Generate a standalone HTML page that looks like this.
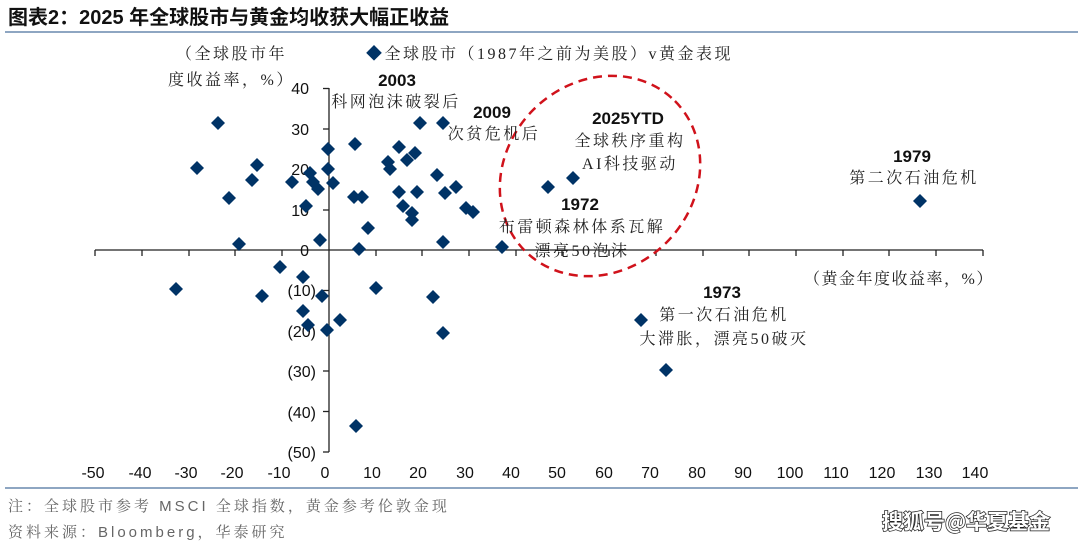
<!DOCTYPE html>
<html><head><meta charset="utf-8"><style>
body{margin:0;background:#fff;width:1080px;height:545px;overflow:hidden;font-family:"Liberation Sans","Noto Sans CJK SC",sans-serif}
</style></head><body>
<svg width="1080" height="545" xmlns="http://www.w3.org/2000/svg" font-family="Liberation Sans, Noto Sans CJK SC, sans-serif">
<text x="8" y="24" font-size="20" font-weight="bold" fill="#111">图表2：2025 年全球股市与黄金均收获大幅正收益</text>
<rect x="5" y="31" width="1073" height="2" fill="#8ea6c2"/>
<g font-size="16" fill="#222" font-family="Liberation Serif, Noto Serif CJK SC, serif" letter-spacing="2.5">
<text x="176" y="59">（全球股市年</text>
<text x="168" y="85">度收益率，%）</text>
<text x="366" y="59"><tspan fill="#003366">◆</tspan>全球股市（1987年之前为美股）v黄金表现</text>
</g>
<g stroke="#222" stroke-width="1.3">
<line x1="329" y1="88" x2="329" y2="452"/>
<line x1="95" y1="250" x2="983" y2="250"/>
</g>
<g stroke="#222" stroke-width="1.3">
<line x1="323" y1="88.5" x2="329" y2="88.5"/><line x1="323" y1="129" x2="329" y2="129"/><line x1="323" y1="169" x2="329" y2="169"/><line x1="323" y1="210" x2="329" y2="210"/><line x1="323" y1="290.5" x2="329" y2="290.5"/><line x1="323" y1="331" x2="329" y2="331"/><line x1="323" y1="371" x2="329" y2="371"/><line x1="323" y1="411.5" x2="329" y2="411.5"/><line x1="323" y1="452" x2="329" y2="452"/>
</g>
<g stroke="#222" stroke-width="1.3">
<line x1="95" y1="250" x2="95" y2="256"/><line x1="142" y1="250" x2="142" y2="256"/><line x1="189" y1="250" x2="189" y2="256"/><line x1="235" y1="250" x2="235" y2="256"/><line x1="282" y1="250" x2="282" y2="256"/><line x1="376" y1="250" x2="376" y2="256"/><line x1="422" y1="250" x2="422" y2="256"/><line x1="469" y1="250" x2="469" y2="256"/><line x1="516" y1="250" x2="516" y2="256"/><line x1="562" y1="250" x2="562" y2="256"/><line x1="609" y1="250" x2="609" y2="256"/><line x1="656" y1="250" x2="656" y2="256"/><line x1="703" y1="250" x2="703" y2="256"/><line x1="749" y1="250" x2="749" y2="256"/><line x1="796" y1="250" x2="796" y2="256"/><line x1="843" y1="250" x2="843" y2="256"/><line x1="889" y1="250" x2="889" y2="256"/><line x1="936" y1="250" x2="936" y2="256"/><line x1="983" y1="250" x2="983" y2="256"/>
</g>
<g font-size="16" fill="#111" text-anchor="end">
<text x="309" y="94">40</text><text x="309" y="135">30</text><text x="309" y="175">20</text><text x="309" y="216">10</text><text x="309" y="256">0</text>
<text x="316" y="296">(10)</text><text x="316" y="337">(20)</text><text x="316" y="377">(30)</text><text x="316" y="418">(40)</text><text x="316" y="458">(50)</text>
</g>
<g font-size="16" fill="#111" text-anchor="middle">
<text x="93" y="478">-50</text><text x="140" y="478">-40</text><text x="186" y="478">-30</text><text x="232" y="478">-20</text><text x="279" y="478">-10</text><text x="325" y="478">0</text><text x="372" y="478">10</text><text x="418" y="478">20</text><text x="465" y="478">30</text><text x="511" y="478">40</text><text x="557" y="478">50</text><text x="604" y="478">60</text><text x="650" y="478">70</text><text x="697" y="478">80</text><text x="743" y="478">90</text><text x="790" y="478">100</text><text x="836" y="478">110</text><text x="882" y="478">120</text><text x="929" y="478">130</text><text x="975" y="478">140</text>
</g>
<text x="804" y="284" font-size="16" fill="#222" font-family="Liberation Serif, Noto Serif CJK SC, serif" letter-spacing="1.5">（黄金年度收益率，%）</text>
<ellipse cx="600" cy="176" rx="106" ry="94" transform="rotate(-45 600 176)" fill="none" stroke="#d0121b" stroke-width="2.5" stroke-dasharray="9,6"/>
<g fill="#003366">
<path d="M218 116l7 7-7 7-7-7z"/><path d="M197 161l7 7-7 7-7-7z"/><path d="M229 191l7 7-7 7-7-7z"/><path d="M252 173l7 7-7 7-7-7z"/><path d="M257 158l7 7-7 7-7-7z"/><path d="M239 237l7 7-7 7-7-7z"/><path d="M292 175l7 7-7 7-7-7z"/><path d="M310 166l7 7-7 7-7-7z"/><path d="M313 175l7 7-7 7-7-7z"/><path d="M318 182l7 7-7 7-7-7z"/><path d="M306 199l7 7-7 7-7-7z"/><path d="M320 233l7 7-7 7-7-7z"/><path d="M328 142l7 7-7 7-7-7z"/><path d="M328 162l7 7-7 7-7-7z"/><path d="M333 176l7 7-7 7-7-7z"/><path d="M355 137l7 7-7 7-7-7z"/><path d="M354 190l7 7-7 7-7-7z"/><path d="M362 190l7 7-7 7-7-7z"/><path d="M368 221l7 7-7 7-7-7z"/><path d="M359 242l7 7-7 7-7-7z"/><path d="M388 155l7 7-7 7-7-7z"/><path d="M390 162l7 7-7 7-7-7z"/><path d="M399 140l7 7-7 7-7-7z"/><path d="M399 185l7 7-7 7-7-7z"/><path d="M407 153l7 7-7 7-7-7z"/><path d="M415 146l7 7-7 7-7-7z"/><path d="M403 199l7 7-7 7-7-7z"/><path d="M412 206l7 7-7 7-7-7z"/><path d="M412 213l7 7-7 7-7-7z"/><path d="M417 185l7 7-7 7-7-7z"/><path d="M420 116l7 7-7 7-7-7z"/><path d="M443 116l7 7-7 7-7-7z"/><path d="M437 168l7 7-7 7-7-7z"/><path d="M445 186l7 7-7 7-7-7z"/><path d="M456 180l7 7-7 7-7-7z"/><path d="M466 201l7 7-7 7-7-7z"/><path d="M473 205l7 7-7 7-7-7z"/><path d="M443 235l7 7-7 7-7-7z"/><path d="M502 240l7 7-7 7-7-7z"/><path d="M280 260l7 7-7 7-7-7z"/><path d="M303 270l7 7-7 7-7-7z"/><path d="M176 282l7 7-7 7-7-7z"/><path d="M262 289l7 7-7 7-7-7z"/><path d="M322 289l7 7-7 7-7-7z"/><path d="M303 304l7 7-7 7-7-7z"/><path d="M308 318l7 7-7 7-7-7z"/><path d="M327 323l7 7-7 7-7-7z"/><path d="M340 313l7 7-7 7-7-7z"/><path d="M376 281l7 7-7 7-7-7z"/><path d="M433 290l7 7-7 7-7-7z"/><path d="M443 326l7 7-7 7-7-7z"/><path d="M356 419l7 7-7 7-7-7z"/><path d="M548 180l7 7-7 7-7-7z"/><path d="M573 171l7 7-7 7-7-7z"/><path d="M641 313l7 7-7 7-7-7z"/><path d="M666 363l7 7-7 7-7-7z"/><path d="M920 194l7 7-7 7-7-7z"/>
</g>
<g font-size="17" font-weight="bold" fill="#111" text-anchor="middle">
<text x="397" y="86">2003</text><text x="492" y="118">2009</text><text x="628" y="124">2025YTD</text><text x="580" y="210">1972</text><text x="912" y="162">1979</text><text x="722" y="298">1973</text>
</g>
<g font-size="16" fill="#222" font-family="Liberation Serif, Noto Serif CJK SC, serif" text-anchor="middle" letter-spacing="2.5">
<text x="396" y="107">科网泡沫破裂后</text>
<text x="494" y="139">次贫危机后</text>
<text x="630" y="146">全球秩序重构</text>
<text x="630" y="169">AI科技驱动</text>
<text x="582" y="232">布雷顿森林体系瓦解</text>
<text x="582" y="256">漂亮50泡沫</text>
<text x="914" y="183">第二次石油危机</text>
<text x="724" y="320">第一次石油危机</text>
<text x="724" y="344">大滞胀，漂亮50破灭</text>
</g>
<rect x="5" y="487" width="1073" height="2" fill="#8ea6c2"/>
<g font-size="15" fill="#666" font-family="Liberation Sans, Noto Serif CJK SC, sans-serif" letter-spacing="3">
<text x="8" y="511">注：全球股市参考 MSCI 全球指数，黄金参考伦敦金现</text>
<text x="8" y="537">资料来源：Bloomberg，华泰研究</text>
</g>
<text x="882" y="529" font-size="21" font-weight="bold" fill="#fff" stroke="#222" stroke-width="1.5" paint-order="stroke" font-family="Noto Sans CJK SC, sans-serif">搜狐号@华夏基金</text>
</svg>
</body></html>
